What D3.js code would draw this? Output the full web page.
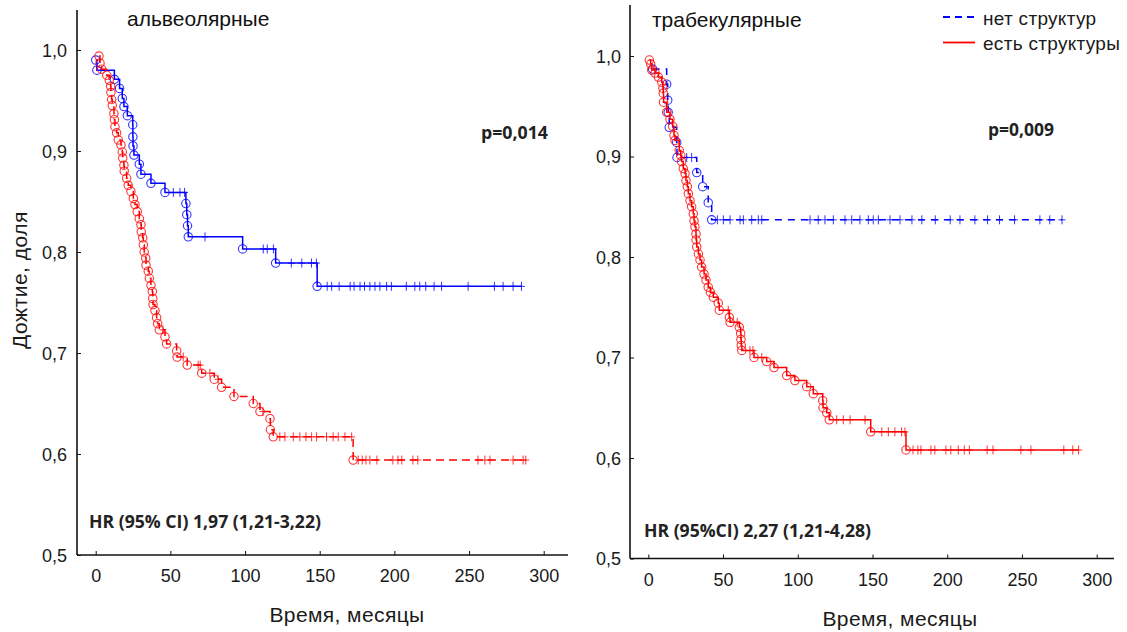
<!DOCTYPE html>
<html>
<head>
<meta charset="utf-8">
<script src="https://cdn.jsdelivr.net/npm/d3@7"></script>
<style>
  html, body { margin: 0; padding: 0; background: #fff; }
  text { font-family: "Liberation Sans", Arial, sans-serif; }
  .bold { font-family: "Open Sans", "Liberation Sans", sans-serif; font-weight: 700; }
</style>
</head>
<body>
<script>
// ---------------- DATA ----------------
const xTickValues = [0, 50, 100, 150, 200, 250, 300];
const xTickLabels = ["0", "50", "100", "150", "200", "250", "300"];
const yTickValues = [0.5, 0.6, 0.7, 0.8, 0.9, 1.0];
const yTickLabels = ["0,5", "0,6", "0,7", "0,8", "0,9", "1,0"];

const seriesNames = ["нет структур", "есть структуры"];
const panelTitles = ["альвеолярные", "трабекулярные"];
const pValues = ["p=0,014", "p=0,009"];
const hrTexts = ["HR (95% CI) 1,97 (1,21-3,22)", "HR (95%CI) 2,27 (1,21-4,28)"];
const xAxisTitle = "Время, месяцы";
const yAxisTitle = "Дожтие, доля";

// Left panel (альвеолярные), group "нет структур" (blue)
const alvNoTime = [0, 0.8, 12.5, 16, 17.8, 18.9, 21.2, 24.8, 24.9, 25, 25.6, 29.2, 30.3, 37, 46.4, 60.4, 61, 61.5, 62, 98.4, 120.5, 148.3];
const alvNoSurv = [0.990, 0.980, 0.971, 0.962, 0.952, 0.944, 0.935, 0.926, 0.914, 0.905, 0.896, 0.887, 0.877, 0.868, 0.859, 0.848, 0.837, 0.826, 0.815, 0.803, 0.789, 0.766];
const alvNoCens = [52, 56.4, 59.5, 73.2, 112.2, 114.9, 119, 131, 138, 144.5, 147.8, 155, 158, 163, 170.4, 173, 177, 180, 183.6, 187, 190.3, 194.8, 198, 208, 213.7, 217, 221, 226.6, 231.6, 249.4, 267, 272.8, 279.5, 285.1];

// Left panel, group "есть структуры" (red)
const alvYesTime = [2.2, 2.9, 4, 7.4, 9.1, 10, 10.2, 10.7, 11.1, 12.2, 12.5, 12.9, 14, 15.1, 16.9, 17.8, 18.1, 18.9, 19.1, 20.7, 21.8, 23.6, 25.2, 26.3, 27.8, 29.2, 30.3, 30.5, 31.5, 31.9, 32.5, 33.5, 33.7, 35.2, 35.9, 37, 37.9, 38.2, 38.4, 39.7, 40.8, 41.5, 42.6, 46.4, 47.5, 54.2, 54.5, 61.3, 71, 79.4, 84.3, 92.6, 105.5, 110, 116.7, 117, 118.9, 172.4];
const alvYesSurv = [0.994, 0.987, 0.981, 0.975, 0.970, 0.964, 0.958, 0.951, 0.945, 0.937, 0.931, 0.924, 0.918, 0.911, 0.906, 0.899, 0.893, 0.886, 0.880, 0.873, 0.866, 0.860, 0.853, 0.847, 0.840, 0.833, 0.827, 0.820, 0.814, 0.807, 0.800, 0.794, 0.787, 0.781, 0.774, 0.767, 0.761, 0.754, 0.748, 0.742, 0.735, 0.729, 0.723, 0.716, 0.709, 0.702, 0.696, 0.688, 0.680, 0.674, 0.666, 0.657, 0.650, 0.642, 0.635, 0.624, 0.617, 0.594];
const alvYesCens = [45, 58.6, 68.6, 70, 76.5, 82, 112, 123.3, 126.7, 132.3, 136.7, 140.8, 144.6, 147.9, 154.6, 159, 162.4, 166.9, 171.4, 175.8, 178.5, 181, 183.6, 188.3, 199, 202.4, 205, 212.4, 215.7, 256, 260.6, 264, 279.5, 286.2, 288];

// Right panel (трабекулярные), group "нет структур" (blue)
const trabNoTime = [2.9, 12.3, 13, 13.3, 14, 19, 19.2, 32.4, 36.4, 40.1, 42.4];
const trabNoSurv = [0.987, 0.972, 0.956, 0.944, 0.929, 0.914, 0.899, 0.884, 0.870, 0.854, 0.837];
const trabNoCens = [25.7, 29, 46.2, 50.2, 54.7, 61.4, 63.6, 69.2, 73.6, 75.9, 108.2, 113.7, 118.2, 123.8, 131.6, 136.1, 141.6, 147.2, 150.5, 153.9, 161.7, 168.4, 176.4, 183, 192, 202, 208.5, 218.5, 227, 235, 245, 262, 268.6, 276.8];

// Right panel, group "есть структуры" (red)
const trabYesTime = [0.7, 1.6, 2.3, 4.5, 6.7, 9, 9.8, 10, 10.2, 12.3, 14.5, 16.3, 17.2, 17.9, 20.7, 21.7, 22.3, 23.4, 24.6, 25.2, 26.1, 26.8, 27.9, 29, 30.1, 30.6, 31.2, 31.9, 32, 32.4, 33.5, 34.6, 35.7, 37.3, 38.6, 40.1, 41.5, 43.5, 46.8, 47.5, 54.2, 54.7, 60.9, 61.8, 62, 62.2, 62.6, 70.7, 79.2, 84.1, 92.6, 98.1, 106, 110.4, 116.7, 116.9, 119.4, 121.1, 148.8, 172.4];
const trabYesSurv = [0.996, 0.992, 0.986, 0.983, 0.979, 0.974, 0.968, 0.963, 0.954, 0.944, 0.937, 0.930, 0.921, 0.916, 0.906, 0.901, 0.895, 0.888, 0.883, 0.876, 0.870, 0.863, 0.856, 0.850, 0.843, 0.836, 0.830, 0.823, 0.817, 0.810, 0.803, 0.797, 0.790, 0.783, 0.777, 0.770, 0.765, 0.760, 0.754, 0.747, 0.740, 0.735, 0.730, 0.724, 0.718, 0.712, 0.707, 0.700, 0.696, 0.690, 0.682, 0.677, 0.671, 0.664, 0.657, 0.650, 0.645, 0.638, 0.626, 0.608];
const trabYesCens = [53.5, 59.5, 68, 70, 75.9, 126, 130.5, 135, 145, 156.2, 160.6, 165, 169.5, 171.7, 177.1, 180.4, 182.4, 189.1, 191.7, 199.1, 202.4, 207.4, 211.4, 214.8, 226.7, 230.6, 249.3, 256, 278, 284, 287.9];

// ---------------- LAYOUT ----------------
const W = 1127, H = 632;
const BLUE = "#0000ff", RED = "#ff0000";

const svg = d3.select("body").append("svg")
  .attr("width", W).attr("height", H)
  .attr("viewBox", `0 0 ${W} ${H}`);

const panels = [
  {
    title: panelTitles[0], p: pValues[0], hr: hrTexts[0],
    axisX: 77, axisRight: 568, axisTop: 10, axisBottom: 555,
    x0: 95.7, x300: 543.7, y05: 555, y10: 50,
    titleX: 127, titleY: 26,
    pX: 481, pY: 139, pLen: 67,
    hrX: 89, hrY: 528, hrLen: 232,
    xTitleX: 347, xTitleY: 622,
    tickLabelY: 582, yLabelRight: 67,
    series: [
      { time: alvNoTime, surv: alvNoSurv, cens: alvNoCens, color: BLUE, dash: null },
      { time: alvYesTime, surv: alvYesSurv, cens: alvYesCens, color: RED, dash: "8,5" }
    ]
  },
  {
    title: panelTitles[1], p: pValues[1], hr: hrTexts[1],
    axisX: 630, axisRight: 1114, axisTop: 5, axisBottom: 558.5,
    x0: 648.3, x300: 1096.7, y05: 558.5, y10: 56,
    titleX: 652, titleY: 27,
    pX: 988, pY: 136, pLen: 66,
    hrX: 644, hrY: 537, hrLen: 227,
    xTitleX: 900, xTitleY: 626,
    tickLabelY: 586, yLabelRight: 621,
    series: [
      { time: trabNoTime, surv: trabNoSurv, cens: trabNoCens, color: BLUE, dash: "7,6" },
      { time: trabYesTime, surv: trabYesSurv, cens: trabYesCens, color: RED, dash: null }
    ]
  }
];

panels.forEach(P => {
  const g = svg.append("g");
  const x = d3.scaleLinear().domain([0, 300]).range([P.x0, P.x300]);
  const y = d3.scaleLinear().domain([0.5, 1.0]).range([P.y05, P.y10]);

  // axis lines
  g.append("line").attr("x1", P.axisX).attr("x2", P.axisX)
    .attr("y1", P.axisTop).attr("y2", P.axisBottom)
    .attr("stroke", "#111").attr("stroke-width", 1.6);
  g.append("line").attr("x1", P.axisX).attr("x2", P.axisRight)
    .attr("y1", P.axisBottom).attr("y2", P.axisBottom)
    .attr("stroke", "#111").attr("stroke-width", 1.6);

  // x axis ticks (inward) via d3 axis
  const xa = g.append("g").attr("transform", `translate(0,${P.axisBottom})`)
    .call(d3.axisBottom(x).tickValues(xTickValues).tickSize(-4)
      .tickFormat((d, i) => xTickLabels[i]));
  xa.select(".domain").remove();
  xa.selectAll(".tick line").attr("stroke", "#111");
  xa.selectAll(".tick text").attr("y", P.tickLabelY - P.axisBottom).attr("dy", null)
    .attr("fill", "#1a1a1a").style("font-size", "18px");

  // y axis ticks (inward)
  const ya = g.append("g").attr("transform", `translate(${P.axisX},0)`)
    .call(d3.axisLeft(y).tickValues(yTickValues).tickSize(-4)
      .tickFormat((d, i) => yTickLabels[i]));
  ya.select(".domain").remove();
  ya.selectAll(".tick line").attr("stroke", "#111");
  ya.selectAll(".tick text").attr("x", P.yLabelRight - P.axisX).attr("dy", "0.34em")
    .attr("fill", "#1a1a1a").style("font-size", "18px");

  // series
  P.series.forEach(S => {
    const lastT = d3.max([d3.max(S.time), d3.max(S.cens)]);
    const pts = S.time.map((t, i) => ({ t, s: S.surv[i] }));
    pts.push({ t: lastT, s: S.surv[S.surv.length - 1] });
    const line = d3.line().x(d => x(d.t)).y(d => y(d.s)).curve(d3.curveStepAfter);
    g.append("path").attr("d", line(pts))
      .attr("fill", "none").attr("stroke", S.color).attr("stroke-width", 1.5)
      .attr("stroke-dasharray", S.dash);

    // events: hollow circles
    g.selectAll(null).data(S.time).enter().append("circle")
      .attr("cx", d => x(d)).attr("cy", (d, i) => y(S.surv[i]))
      .attr("r", 4.2).attr("fill", "none")
      .attr("stroke", S.color).attr("stroke-width", 1.1).attr("stroke-opacity", 0.8);

    // censored: plus marks
    const survAt = t => {
      let v = 1;
      for (let i = 0; i < S.time.length; i++) if (S.time[i] <= t) v = S.surv[i];
      return v;
    };
    const cg = g.selectAll(null).data(S.cens).enter().append("g")
      .attr("transform", d => `translate(${x(d)},${y(survAt(d))})`);
    cg.append("line").attr("x1", -3.5).attr("x2", 3.5).attr("y1", 0).attr("y2", 0)
      .attr("stroke", S.color).attr("stroke-width", 1).attr("stroke-opacity", 0.8);
    cg.append("line").attr("x1", 0).attr("x2", 0).attr("y1", -4.5).attr("y2", 4.5)
      .attr("stroke", S.color).attr("stroke-width", 1).attr("stroke-opacity", 0.8);
  });

  // texts
  g.append("text").attr("x", P.titleX).attr("y", P.titleY)
    .style("font-size", "21px").attr("fill", "#111").text(P.title);
  g.append("text").attr("class", "bold").attr("x", P.pX).attr("y", P.pY)
    .style("font-size", "17.5px").attr("fill", "#222")
    .attr("textLength", P.pLen).attr("lengthAdjust", "spacingAndGlyphs").text(P.p);
  g.append("text").attr("class", "bold").attr("x", P.hrX).attr("y", P.hrY)
    .style("font-size", "17.5px").attr("fill", "#222")
    .attr("textLength", P.hrLen).attr("lengthAdjust", "spacingAndGlyphs").text(P.hr);
  g.append("text").attr("x", P.xTitleX).attr("y", P.xTitleY).attr("text-anchor", "middle")
    .style("font-size", "21px").style("letter-spacing", "0.4px").attr("fill", "#1a1a1a").text(xAxisTitle);
});

// y axis title (left only)
svg.append("text")
  .attr("transform", "translate(27,280) rotate(-90)")
  .attr("text-anchor", "middle")
  .style("font-size", "21px").style("letter-spacing", "0.5px").attr("fill", "#1a1a1a")
  .text(yAxisTitle);

// legend (right panel)
const legend = svg.append("g");
const legendRows = [
  { name: seriesNames[0], color: BLUE, dash: "7,5", ly: 17, ty: 25 },
  { name: seriesNames[1], color: RED, dash: null, ly: 42.5, ty: 50 }
];
legendRows.forEach(r => {
  legend.append("line").attr("x1", 943).attr("x2", 975).attr("y1", r.ly).attr("y2", r.ly)
    .attr("stroke", r.color).attr("stroke-width", 1.8).attr("stroke-dasharray", r.dash);
  legend.append("text").attr("x", 983).attr("y", r.ty)
    .style("font-size", "19px").style("letter-spacing", "0.3px").attr("fill", "#1a1a1a").text(r.name);
});
</script>
</body>
</html>
